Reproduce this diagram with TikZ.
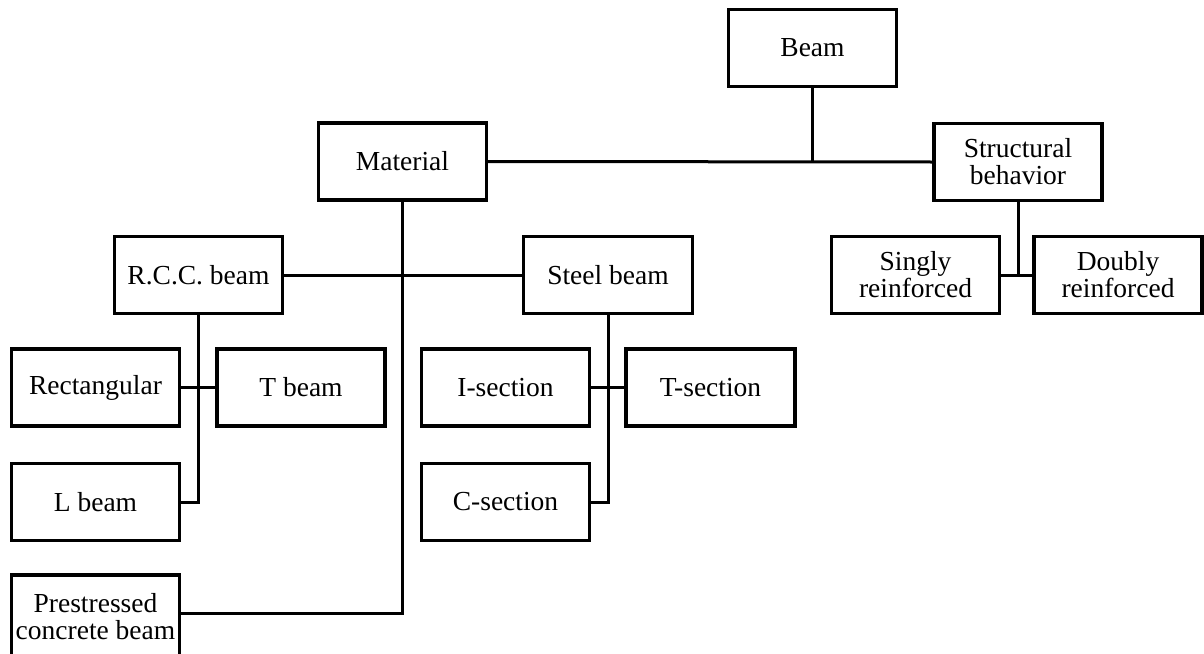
\documentclass[tikz,border=0pt]{standalone}
\usepackage{fontspec}
\setmainfont{Liberation Serif}
\begin{document}
\begin{tikzpicture}[x=1pt,y=-1pt,
  box/.style={draw=black,line width=3.3pt,fill=white,minimum width=168pt,minimum height=77pt,
    inner sep=0pt,align=center,font=\fontsize{27.5}{27}\selectfont},
  conn/.style={draw=black,line width=3pt,line join=miter}]
\useasboundingbox (0,0) rectangle (1204,653);
\node[box] (beam) at (812.5,48) {Beam};
\node[box] (mat) at (402.5,161.5) {Material};
\node[box] (str) at (1018,162) {Structural\\behavior};
\node[box] (rcc) at (198.5,275) {R.C.C. beam};
\node[box,minimum width=169pt] (steel) at (608,275) {Steel beam};
\node[box] (singly) at (915.5,275) {Singly\\reinforced};
\node[box] (doubly) at (1118,275) {Doubly\\reinforced};
\node[box] (rect) at (95.5,387.5) {Rectangular};
\node[box] (tbeam) at (301,387.5) {T beam};
\node[box] (isec) at (505.5,387.5) {I-section};
\node[box,minimum width=169pt] (tsec) at (710.5,387.5) {T-section};
\node[box] (lbeam) at (95.5,502) {L beam};
\node[box] (csec) at (505.5,502) {C-section};
\node[box,minimum height=84pt] (pre) at (95.5,617) {Prestressed\\concrete beam};
\coordinate (j1) at (beam.south |- mat.east);
\coordinate (j2) at (str.south |- singly.east);
\draw[conn] (beam.south) -- (j1);
\draw[conn] (mat.east) -- (str.west);
\draw[conn] (mat.south) |- ([yshift=4pt]pre.east);
\draw[conn] (rcc.east) -- (steel.west);
\draw[conn] (rcc.south) |- (lbeam.east);
\draw[conn] (rect.east) -- (tbeam.west);
\draw[conn] (steel.south) |- (csec.east);
\draw[conn] (isec.east) -- (tsec.west);
\draw[conn] (str.south) -- (j2);
\draw[conn] (singly.east) -- (doubly.west);
\end{tikzpicture}
\end{document}
